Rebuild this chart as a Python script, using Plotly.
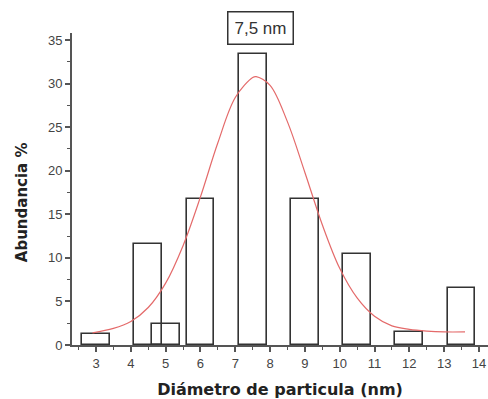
import plotly.graph_objects as go

# Histogram bars (centre in nm, abundance %)
bar_x = [3.0, 4.5, 5.0, 6.0, 7.5, 9.0, 10.5, 12.0, 13.5]
bar_y = [1.3, 11.6, 2.4, 16.8, 33.4, 16.8, 10.4, 1.5, 6.5]

# Fitted curve
fit_x = [2.9, 3.5, 4.0, 4.5, 5.0, 5.5, 6.0, 6.5, 7.0, 7.5, 7.6, 8.0, 8.5, 9.0, 9.5, 10.0, 10.5, 11.0, 11.5, 12.0, 12.5, 13.0, 13.6]
fit_y = [1.4, 1.9, 2.7, 4.3, 7.1, 11.4, 17.0, 23.2, 28.4, 30.7, 30.8, 29.8, 25.6, 19.8, 13.8, 8.8, 5.4, 3.3, 2.2, 1.8, 1.6, 1.5, 1.5]

x_ticks = list(range(3, 15))
y_ticks = [0, 5, 10, 15, 20, 25, 30, 35]

font = "Liberation Sans, Arial, sans-serif"
title_font = "DejaVu Sans, sans-serif"
ink = "#333333"

fig = go.Figure()
fig.add_trace(go.Bar(
    x=bar_x, y=bar_y, width=0.8,
    marker=dict(color="rgba(0,0,0,0)", line=dict(color=ink, width=1.6)),
    showlegend=False,
))
fig.add_trace(go.Scatter(
    x=fit_x, y=fit_y, mode="lines", line=dict(color="#e46a6a", width=1.2, shape="spline"),
    showlegend=False,
))

fig.add_annotation(
    x=7.73, y=1.016, xref="x", yref="paper", text="7,5 nm", showarrow=False,
    font=dict(family=font, size=17, color=ink),
    bordercolor=ink, borderwidth=1.5, borderpad=6, bgcolor="white",
    xanchor="center", yanchor="middle",
)

# y-axis title placed as rotated text (it sits slightly below the axis centre)
fig.add_annotation(
    x=-0.12, y=0.458, xref="paper", yref="paper", text="<b>Abundancia %</b>",
    textangle=-90, showarrow=False,
    font=dict(family=title_font, size=15, color="#222"),
    xanchor="center", yanchor="middle",
)

fig.update_layout(
    width=488, height=399,
    margin=dict(l=72, r=0, t=33, b=54),
    paper_bgcolor="white", plot_bgcolor="white",
    font=dict(family=font, size=13, color="#444"),
    bargap=0,
    xaxis=dict(
        range=[2.31, 14.26], tickvals=x_ticks, ticktext=[str(v) for v in x_ticks],
        showgrid=False, zeroline=False, showline=True, linecolor="#555", linewidth=2,
        ticks="outside", ticklen=5, tickwidth=1.5, tickcolor="#555",
        minor=dict(dtick=0.5, tick0=0, ticks="outside", ticklen=3, tickcolor="#555", tickwidth=1),
        title=dict(text="<b>Diámetro de particula (nm)</b>", font=dict(family=title_font, size=16, color="#222"), standoff=14),
        tickfont=dict(size=13),
    ),
    yaxis=dict(
        range=[0, 35.8], tickvals=y_ticks,
        showgrid=False, zeroline=False, showline=True, linecolor="#555", linewidth=2,
        ticks="outside", ticklen=5, tickwidth=1.5, tickcolor="#555",
        minor=dict(dtick=2.5, tick0=0, ticks="outside", ticklen=3, tickcolor="#555", tickwidth=1),
        tickfont=dict(size=13),
    ),
)

fig.write_html("out.html")
